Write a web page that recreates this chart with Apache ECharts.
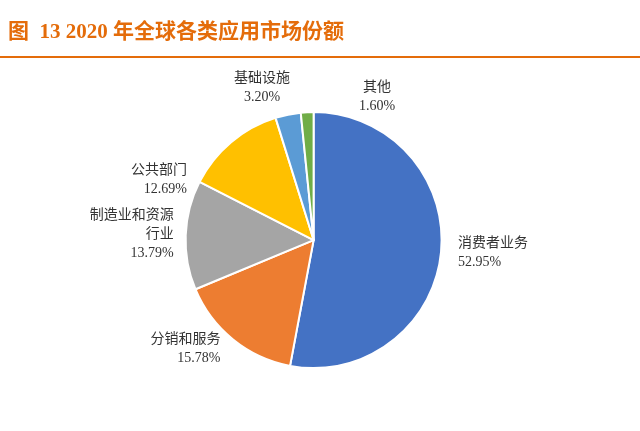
<!DOCTYPE html>
<html><head><meta charset="utf-8">
<script src="https://cdn.jsdelivr.net/npm/echarts@6/dist/echarts.min.js"></script>
<style>body{margin:0}#c{width:640px;height:431px}</style>
</head><body><div id="c"></div>
<script>
var names = ['消费者业务', '分销和服务', '制造业和资源\n行业', '公共部门', '基础设施', '其他'];
var values = [52.95, 15.78, 13.79, 12.69, 3.20, 1.60];
var colors = ['#4472C4', '#ED7D31', '#A5A5A5', '#FFC000', '#5B9BD5', '#70AD47'];

var chart = echarts.init(document.getElementById('c'));
var data = names.map(function (n, i) { return { name: n, value: values[i] }; });
chart.setOption({
  animation: false,
  backgroundColor: '#fff',
  graphic: [
    { type: 'text', left: 8, top: 22, style: { text: '图  13 2020 年全球各类应用市场份额', fill: '#E46C0A', font: 'bold 21px "Liberation Serif", "Noto Sans CJK SC"' } },
    { type: 'rect', shape: { x: 0, y: 56, width: 640, height: 2 }, style: { fill: '#E46C0A' } }
  ],
  series: [{
    type: 'pie',
    center: ['49%', '55.7%'],
    radius: 128,
    startAngle: 90,
    clockwise: true,
    color: colors,
    itemStyle: { borderColor: '#fff', borderWidth: 2 },
    label: {
      show: true, position: 'outside', color: '#333', fontSize: 14, lineHeight: 19,
      fontFamily: '"Liberation Serif", "Noto Sans CJK SC"', align: 'center',
      formatter: function (p) { return p.name + '\n' + p.value.toFixed(2) + '%'; }
    },
    labelLine: { show: false, length: 12, length2: 0 },
    labelLayout: function (p) {
      if (p.dataIndex === 4) return { x: 262, y: 88, align: 'center', verticalAlign: 'middle' };
      if (p.dataIndex === 5) return { x: 377, y: 97, align: 'center', verticalAlign: 'middle' };
      return {};
    },
    data: data
  }]
});
</script></body></html>
